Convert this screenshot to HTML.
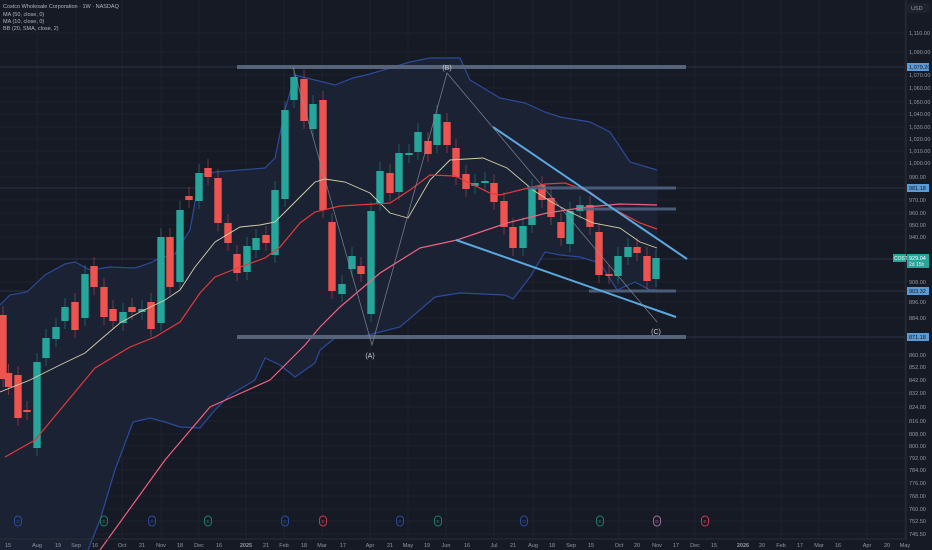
<!DOCTYPE html>
<html><head><meta charset="utf-8"><style>
html,body{margin:0;padding:0;background:#161a25;}
svg{display:block;font-family:"Liberation Sans",sans-serif;}
</style></head><body>
<svg id="s" width="932" height="550" viewBox="0 0 932 550" xmlns="http://www.w3.org/2000/svg">
<rect width="932" height="550" fill="#161a25"/>
<g id="grid" stroke="#1c2130" stroke-width="1"></g>
<g stroke="#2a3346" stroke-width="1">
<line x1="0" y1="67" x2="905" y2="67"/><line x1="0" y1="188" x2="905" y2="188"/>
<line x1="0" y1="259" x2="905" y2="259"/><line x1="0" y1="291" x2="905" y2="291"/><line x1="0" y1="337" x2="905" y2="337"/>
</g>
<g id="bands"></g>
<g id="candles"></g>
<g id="lines" fill="none"></g>
<!-- annotations -->
<g stroke="#5d6a80" stroke-width="4" opacity="0.9">
<line x1="237" y1="67" x2="686" y2="67"/>
<line x1="237" y1="337" x2="686" y2="337"/>
</g>
<g stroke="#4f6280" stroke-width="3" opacity="0.9">
<line x1="527" y1="188" x2="676" y2="188"/>
<line x1="583" y1="209" x2="676" y2="209"/>
<line x1="589" y1="291" x2="676" y2="291"/>
</g>
<g stroke="#5aa8e0" stroke-width="2">
<line x1="493" y1="127" x2="687" y2="259"/>
<line x1="456" y1="240" x2="676" y2="317"/>
</g>
<polyline points="293,67 372,345 447,73 657,322" fill="none" stroke="#8a8f9c" stroke-width="0.8" opacity="0.8"/>
<g fill="#c9ccd4" font-size="7" text-anchor="middle">
<text x="370" y="358">(A)</text><text x="447" y="70">(B)</text><text x="656" y="334">(C)</text>
</g>
<!-- legend -->
<g fill="#b2b5be" font-size="5.5">
<text x="3" y="8">Costco Wholesale Corporation · 1W · NASDAQ</text>
<text x="3" y="16">MA (50, close, 0)</text>
<text x="3" y="23">MA (10, close, 0)</text>
<text x="3" y="30">BB (20, SMA, close, 2)</text>
</g>
<!-- right axis -->
<rect x="906" y="0" width="26" height="550" fill="#161a25"/>
<line x1="906" y1="0" x2="906" y2="540" stroke="#2a2e39"/>
<rect x="907" y="3" width="22" height="10" rx="2" fill="#1e222d"/>
<g fill="#9598a1" font-size="5.5">
<text x="911" y="10">USD</text>
<text x="909" y="35">1,110.00</text><text x="909" y="54">1,090.00</text>
<text x="909" y="77">1,070.00</text><text x="909" y="90">1,060.00</text><text x="909" y="104">1,050.00</text>
<text x="909" y="116">1,040.00</text><text x="909" y="129">1,030.00</text><text x="909" y="141">1,020.00</text>
<text x="909" y="153">1,010.00</text><text x="909" y="165">1,000.00</text><text x="909" y="179">990.00</text>
<text x="909" y="202">970.00</text><text x="909" y="215">960.00</text><text x="909" y="227">950.00</text>
<text x="909" y="239">940.00</text><text x="909" y="284">908.00</text><text x="909" y="304">896.00</text>
<text x="909" y="320">884.00</text><text x="909" y="357">860.00</text><text x="909" y="369">852.00</text>
<text x="909" y="382">842.00</text><text x="909" y="395">832.00</text><text x="909" y="409">824.00</text>
<text x="909" y="423">816.00</text><text x="909" y="436">808.00</text><text x="909" y="448">800.00</text>
<text x="909" y="460">792.00</text><text x="909" y="472">784.00</text><text x="909" y="485">776.00</text>
<text x="909" y="498">768.00</text><text x="909" y="511">760.00</text><text x="909" y="523">752.50</text>
<text x="909" y="536">745.50</text>
</g>
<g font-size="5.5" fill="#131722">
<rect x="907" y="63" width="22" height="8" fill="#5b9bd5"/><text x="909" y="69">1,079.20</text>
<rect x="907" y="184" width="22" height="8" fill="#5b9bd5"/><text x="909" y="190">981.18</text>
<rect x="907" y="287" width="22" height="8" fill="#5b9bd5"/><text x="909" y="293">903.32</text>
<rect x="907" y="333" width="22" height="8" fill="#5b9bd5"/><text x="909" y="339">871.18</text>
</g>
<rect x="893" y="254" width="13" height="8" fill="#26a69a"/>
<text x="894" y="260" font-size="5" fill="#fff">COST</text>
<rect x="907" y="254" width="22" height="14" fill="#26a69a"/>
<text x="909" y="260" font-size="5.5" fill="#fff">929.04</text>
<text x="909" y="266" font-size="5" fill="#e0f2f1">2d 15h</text>
<!-- bottom axis -->
<line x1="0" y1="539" x2="906" y2="539" stroke="#2a2e39"/>
<g fill="#9598a1" font-size="5.5" text-anchor="middle">
<text x="8" y="547">15</text><text x="37" y="547">Aug</text><text x="58" y="547">19</text><text x="76" y="547">Sep</text>
<text x="95" y="547">16</text><text x="122" y="547">Oct</text><text x="142" y="547">21</text><text x="161" y="547">Nov</text>
<text x="180" y="547">18</text><text x="199" y="547">Dec</text><text x="219" y="547">16</text><text x="246" y="547" font-weight="bold">2025</text>
<text x="266" y="547">21</text><text x="284" y="547">Feb</text><text x="304" y="547">18</text><text x="322" y="547">Mar</text>
<text x="343" y="547">17</text><text x="370" y="547">Apr</text><text x="390" y="547">21</text><text x="408" y="547">May</text>
<text x="427" y="547">19</text><text x="446" y="547">Jun</text><text x="467" y="547">16</text><text x="494" y="547">Jul</text>
<text x="513" y="547">21</text><text x="533" y="547">Aug</text><text x="552" y="547">18</text><text x="571" y="547">Sep</text>
<text x="591" y="547">15</text><text x="619" y="547">Oct</text><text x="637" y="547">20</text><text x="657" y="547">Nov</text>
<text x="676" y="547">17</text><text x="695" y="547">Dec</text><text x="714" y="547">15</text><text x="743" y="547" font-weight="bold">2026</text>
<text x="762" y="547">20</text><text x="781" y="547">Feb</text><text x="800" y="547">17</text><text x="819" y="547">Mar</text>
<text x="838" y="547">16</text><text x="867" y="547">Apr</text><text x="887" y="547">20</text><text x="905" y="547">May</text>
</g>
<g id="events" font-size="4.5" text-anchor="middle"></g>
</svg>
<script>
var NS="http://www.w3.org/2000/svg";
function el(p,t,a){var e=document.createElementNS(NS,t);for(var k in a)e.setAttribute(k,a[k]);document.getElementById(p).appendChild(e);return e;}
[35,54,77,90,104,116,129,141,153,165,179,202,215,227,239,284,304,320,357,369,382,395,409,423,436,448,460,472,485,498,511,523,536].forEach(function(y){el("grid","line",{x1:0,y1:y-2,x2:906,y2:y-2});});
[37,76,122,161,199,246,284,322,370,408,446,494,533,571,619,657,695,743,781,819,867,905].forEach(function(x){el("grid","line",{x1:x,y1:0,x2:x,y2:539});});
var up=[[0,305],[10,295],[27,292],[45,275],[65,264],[75,262],[90,270],[110,267],[135,268],[150,263],[160,258],[175,254],[190,230],[200,175],[215,172],[240,170],[265,168],[275,158],[285,110],[295,75],[315,80],[335,85],[353,78],[370,74],[390,68],[410,62],[430,58],[460,58],[470,80],[500,98],[525,103],[545,112],[560,117],[590,122],[610,132],[630,162],[657,170]];
var lo=[[657,290],[650,290],[635,282],[617,290],[600,263],[580,257],[560,255],[545,252],[530,277],[513,299],[505,295],[460,293],[435,297],[400,327],[360,337],[335,338],[320,350],[315,363],[295,377],[280,365],[265,358],[255,380],[230,395],[215,410],[200,428],[180,427],[165,422],[150,418],[133,422],[115,470],[100,520],[88,550],[0,550]];
el("bands","polygon",{points:up.concat(lo).map(function(p){return p.join(",")}).join(" "),fill:"#1a2233"});
el("bands","polyline",{points:up.map(function(p){return p.join(",")}).join(" "),fill:"none",stroke:"#2c4a9a","stroke-width":1.2});
el("bands","polyline",{points:lo.slice(0,lo.length-1).map(function(p){return p.join(",")}).join(" "),fill:"none",stroke:"#2c4a9a","stroke-width":1.2});
var C=[[3,315,379,0],[8.5,373,387,0],[18,375,418,0],[27,410,412,0],[37,362,448,1],[46,338,358,1],[56,327,339,1],[65,307,321,1],[75,302,330,0],[85,274,318,1],[94,266,287,0],[104,287,317,0],[113,309,321,0],[123,312,323,1],[132,307,312,0],[142,309,312,1],[151,302,329,0],[161,237,323,1],[170,237,287,0],[180,210,282,1],[189,196,200,0],[199,173,201,1],[208,168,177,0],[218,178,223,0],[228,223,243,0],[237,254,273,0],[247,246,272,1],[256,238,250,1],[266,235,243,0],[275,190,255,1],[285,110,199,1],[294,77,100,1],[304,79,121,0],[313,104,129,1],[323,100,210,0],[332,222,291,0],[342,284,294,1],[352,256,269,1],[361,266,274,0],[371,211,314,1],[380,171,203,1],[390,173,193,0],[399,153,192,1],[409,153,155,1],[418,132,152,1],[428,141,154,0],[437,114,145,1],[447,122,145,0],[456,148,177,0],[466,174,189,0],[475,183,186,1],[485,181,183,1],[494,183,202,0],[504,201,227,0],[513,227,248,0],[523,226,248,1],[532,188,225,1],[542,185,200,0],[551,198,217,0],[561,222,238,0],[570,211,244,1],[580,205,211,1],[590,205,227,0],[599,232,275,0],[609,274,276,0],[618,256,276,1],[628,247,257,1],[637,247,253,0],[647,256,281,0],[656,258,279,1]];
C.forEach(function(c){var col=c[3]?"#26a69a":"#ef5350";
el("candles","line",{x1:c[0],y1:c[1]-9,x2:c[0],y2:c[2]+8,stroke:col,"stroke-width":1,opacity:0.45});
el("candles","rect",{x:c[0]-3.7,y:c[1],width:7.4,height:Math.max(1.5,c[2]-c[1]),fill:col});});
function pl(pts,col,w){el("lines","polyline",{points:pts.map(function(p){return p.join(",")}).join(" "),stroke:col,"stroke-width":w,fill:"none"});}
pl([[0,392],[30,380],[60,365],[85,353],[100,340],[120,323],[140,312],[165,300],[180,290],[195,267],[215,242],[240,227],[260,225],[275,222],[285,212],[300,197],[315,182],[325,179],[345,182],[370,193],[390,213],[408,218],[430,180],[450,160],[483,158],[507,168],[533,190],[553,203],[570,212],[593,223],[620,228],[640,242],[657,248]],"#d6cfa6",0.9);
pl([[5,457],[35,440],[95,368],[130,347],[155,337],[180,322],[200,293],[215,277],[240,267],[265,258],[280,247],[300,223],[315,212],[340,206],[390,203],[410,190],[430,175],[455,176],[490,193],[500,195],[520,190],[545,184],[565,183],[590,192],[610,207],[640,223],[657,229]],"#e5383b",1.2);
pl([[100,550],[165,460],[210,407],[270,380],[305,345],[320,327],[340,307],[380,273],[420,248],[457,240],[507,223],[547,213],[587,207],[620,204],[657,205]],"#f06080",1.2);
[[18,"#2c4a9a","D"],[152,"#2c4a9a","D"],[285,"#2c4a9a","D"],[400,"#2c4a9a","D"],[524,"#2c4a9a","D"],[104,"#1f7a64","E"],[208,"#1f7a64","E"],[438,"#1f7a64","E"],[600,"#1f7a64","E"],[323,"#c0394b","E"],[705,"#c0394b","E"],[657,"#9a6b9a","D"]].forEach(function(e){
el("events","rect",{x:e[0]-3.5,y:516,width:7,height:10,rx:3.5,fill:"none",stroke:e[1],"stroke-width":1});
var t=el("events","text",{x:e[0],y:523,fill:e[1]});t.textContent=e[2];});
</script>
</body></html>
